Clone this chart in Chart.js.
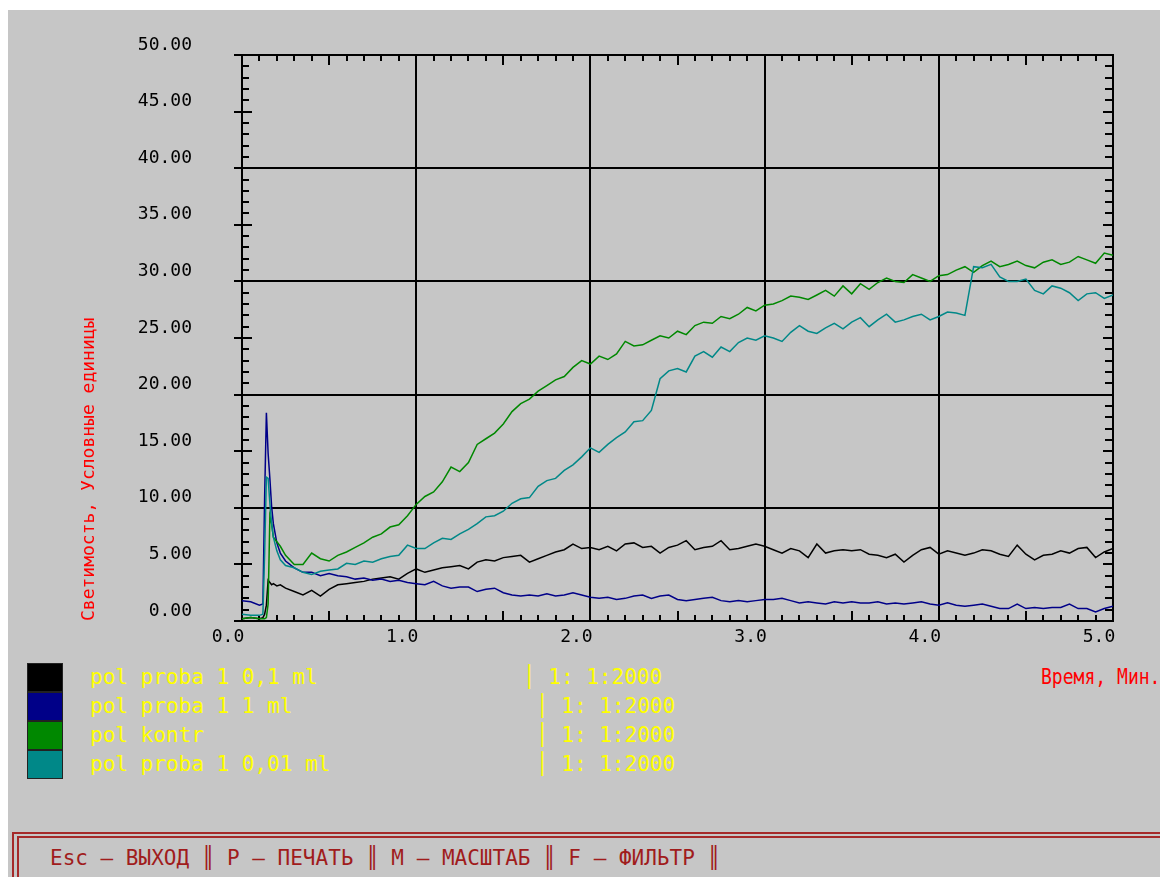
<!DOCTYPE html>
<html>
<head>
<meta charset="utf-8">
<script src="https://cdn.jsdelivr.net/npm/chart.js@4/dist/chart.umd.min.js"></script>
<style>
  body { margin: 0; background: #fff; width: 1160px; height: 877px; overflow: hidden; position: relative; font-family: "DejaVu Sans Mono", monospace; }
  #screen { position: absolute; left: 8px; top: 10px; width: 1152px; height: 867px; background: #c6c6c6; }
  #chart { position: absolute; left: 0; top: 0; }
  .row { position: absolute; left: 0; height: 29px; width: 700px; }
  .swatch { position: absolute; left: 27px; top: 0; width: 34px; height: 27px; border: 1px solid #222; }
  .name, .ratio { position: absolute; top: 0; line-height: 29px; font-size: 21px; color: #ffff00; white-space: pre; }
  .name { left: 90px; }
  #xtitle { position: absolute; left: 1041px; top: 664px; font-size: 22px; line-height: 26px; color: #ff0000; white-space: pre; transform: scaleX(0.82); transform-origin: left center; }
  #keysOuter { position: absolute; left: 12px; top: 832px; width: 1200px; height: 80px; border-top: 2px solid #a52a2a; border-left: 2px solid #a52a2a; }
  #keysInner { position: absolute; left: 17px; top: 836px; width: 1200px; height: 80px; border-top: 2px solid #a52a2a; border-left: 2px solid #a52a2a; }
  #keys { position: absolute; left: 50px; top: 845px; font-size: 21px; line-height: 26px; color: #a01c1c; white-space: pre; }
</style>
</head>
<body>
<div id="screen"></div>
<canvas id="chart" width="1160" height="660"></canvas>
<div id="legend"></div>
<div id="xtitle">Время, Мин.</div>
<div id="keysOuter"></div>
<div id="keysInner"></div>
<div id="keys">Esc – ВЫХОД ║ P – ПЕЧАТЬ ║ M – МАСШТАБ ║ F – ФИЛЬТР ║</div>
<script>
document.addEventListener("DOMContentLoaded", () => {
  const FONT = "'DejaVu Sans Mono', monospace";

  // time, minutes
  const times = [0, 0.05, 0.1, 0.12, 0.13, 0.14, 0.15, 0.16, 0.17, 0.18, 0.2, 0.22, 0.25,
    0.3, 0.35, 0.4, 0.45, 0.5, 0.55, 0.6, 0.65, 0.7, 0.75, 0.8, 0.85, 0.9, 0.95, 1.0,
    1.05, 1.1, 1.15, 1.2, 1.25, 1.3, 1.35, 1.4, 1.45, 1.5, 1.55, 1.6, 1.65, 1.7, 1.75, 1.8, 1.85, 1.9, 1.95, 2.0,
    2.05, 2.1, 2.15, 2.2, 2.25, 2.3, 2.35, 2.4, 2.45, 2.5, 2.55, 2.6, 2.65, 2.7, 2.75, 2.8, 2.85, 2.9, 2.95, 3.0,
    3.05, 3.1, 3.15, 3.2, 3.25, 3.3, 3.35, 3.4, 3.45, 3.5, 3.55, 3.6, 3.65, 3.7, 3.75, 3.8, 3.85, 3.9, 3.95, 4.0,
    4.05, 4.1, 4.15, 4.2, 4.25, 4.3, 4.35, 4.4, 4.45, 4.5, 4.55, 4.6, 4.65, 4.7, 4.75, 4.8, 4.85, 4.9, 4.95, 5.0];

  const proba01 = [0.2, 0.3, 0.2, 0.3, 0.6, 1.4, 3.6, 3.4, 3.2, 3.3, 3.1, 3.2, 2.9,
    2.6, 2.3, 2.7, 2.2, 2.8, 3.2, 3.3, 3.4, 3.5, 3.7, 3.8, 3.9, 3.7, 4.2, 4.6,
    4.3, 4.5, 4.7, 4.8, 4.9, 4.6, 5.2, 5.4, 5.3, 5.6, 5.7, 5.8, 5.2, 5.5, 5.8, 6.1, 6.3, 6.8, 6.4, 6.5,
    6.3, 6.6, 6.2, 6.8, 6.9, 6.5, 6.6, 6.0, 6.5, 6.7, 7.1, 6.3, 6.5, 6.6, 7.1, 6.3, 6.4, 6.6, 6.8, 6.6,
    6.3, 6.0, 6.4, 6.2, 5.6, 6.8, 6.0, 6.2, 6.3, 6.2, 6.3, 5.9, 5.8, 5.6, 5.9, 5.2, 5.8, 6.3, 6.5, 5.9,
    6.2, 6.0, 5.8, 6.0, 6.3, 6.2, 5.9, 5.7, 6.7, 5.9, 5.4, 5.8, 5.9, 6.2, 6.0, 6.4, 6.5, 5.6, 6.1, 6.4];

  const proba1 = [1.8, 1.7, 1.4, 1.5, 11.0, 18.4, 14.8, 12.6, 10.1, 8.6, 6.9, 6.0, 5.3,
    4.7, 4.3, 4.3, 4.0, 4.2, 4.0, 3.9, 3.7, 3.8, 3.6, 3.7, 3.5, 3.6, 3.4, 3.3,
    3.2, 3.5, 3.1, 2.9, 3.0, 3.0, 2.6, 2.8, 2.9, 2.5, 2.3, 2.2, 2.3, 2.2, 2.4, 2.2, 2.3, 2.5, 2.3, 2.1,
    2.0, 2.1, 1.9, 2.0, 2.2, 2.3, 2.0, 2.2, 2.3, 1.9, 1.8, 1.9, 2.0, 2.1, 1.8, 1.7, 1.8, 1.7, 1.8, 1.9,
    1.9, 2.0, 1.8, 1.6, 1.7, 1.6, 1.5, 1.7, 1.6, 1.7, 1.6, 1.6, 1.7, 1.5, 1.6, 1.5, 1.6, 1.7, 1.5, 1.4,
    1.6, 1.4, 1.3, 1.4, 1.5, 1.3, 1.1, 1.1, 1.5, 1.1, 1.2, 1.1, 1.2, 1.2, 1.5, 1.1, 1.1, 0.8, 1.1, 1.3];

  const kontr = [0.2, 0.3, 0.2, 0.2, 0.2, 0.3, 1.5, 9.3, 8.6, 7.4, 7.0, 6.6, 5.8,
    5.0, 5.0, 6.0, 5.5, 5.3, 5.8, 6.1, 6.5, 6.9, 7.4, 7.7, 8.3, 8.5, 9.3, 10.3,
    11.0, 11.4, 12.3, 13.6, 13.2, 14.0, 15.6, 16.1, 16.6, 17.4, 18.5, 19.2, 19.6, 20.3, 20.8, 21.3, 21.6, 22.4, 23.0, 22.7,
    23.4, 23.1, 23.6, 24.7, 24.3, 24.4, 24.8, 25.2, 25.0, 25.6, 25.3, 26.1, 26.4, 26.3, 26.9, 26.7, 27.1, 27.7, 27.4, 27.9,
    28.0, 28.3, 28.7, 28.6, 28.4, 28.8, 29.2, 28.7, 29.6, 28.9, 29.8, 29.3, 29.9, 30.3, 30.0, 29.9, 30.6, 30.3, 30.0, 30.5,
    30.6, 31.0, 31.3, 30.8, 31.4, 31.8, 31.3, 31.5, 31.8, 31.4, 31.2, 31.7, 31.9, 31.5, 31.7, 32.2, 31.9, 31.6, 32.5, 32.3];

  const proba001 = [0.6, 0.5, 0.5, 0.6, 6.0, 12.7, 12.6, 10.4, 8.6, 7.4, 6.2, 5.4, 4.9,
    4.7, 4.3, 4.1, 4.4, 4.5, 4.6, 5.1, 5.0, 5.3, 5.2, 5.5, 5.7, 5.8, 6.7, 6.4,
    6.4, 6.9, 7.3, 7.2, 7.7, 8.1, 8.6, 9.2, 9.3, 9.7, 10.4, 10.8, 10.9, 11.9, 12.4, 12.6, 13.3, 13.8, 14.5, 15.3,
    14.9, 15.6, 16.2, 16.7, 17.6, 17.7, 18.6, 21.4, 22.1, 22.3, 22.0, 23.4, 23.8, 23.3, 24.2, 23.8, 24.6, 25.0, 24.8, 25.2,
    25.0, 24.7, 25.5, 26.1, 25.6, 25.4, 25.9, 26.3, 25.8, 26.4, 26.8, 26.0, 26.6, 27.1, 26.4, 26.6, 26.9, 27.1, 26.6, 26.9,
    27.3, 27.2, 27.0, 31.3, 31.2, 31.5, 30.4, 30.0, 30.0, 30.2, 29.2, 28.9, 29.6, 29.4, 29.0, 28.3, 28.9, 29.0, 28.5, 28.8];

  const seriesNames = ["pol proba 1 0,1 ml", "pol proba 1 1 ml", "pol kontr", "pol proba 1 0,01 ml"];
  const seriesRatios = ["│ 1: 1:2000", "│ 1: 1:2000", "│ 1: 1:2000", "│ 1: 1:2000"];
  const seriesColors = ["#000000", "#000088", "#008800", "#008888"];
  const seriesValues = [proba01, proba1, kontr, proba001];

  // legend block under the plot
  const legend = document.getElementById("legend");
  seriesNames.forEach((name, i) => {
    const row = document.createElement("div");
    row.className = "row";
    row.style.top = (663 + i * 29) + "px";
    row.innerHTML = `<div class="swatch" style="background:${seriesColors[i]}"></div>` +
      `<div class="name">${name}</div>` +
      `<div class="ratio" style="left:${i === 0 ? 523 : 536}px">${seriesRatios[i]}</div>`;
    legend.appendChild(row);
  });

  // inner tick marks and frame, like the old DOS plot
  const frameTicks = {
    id: "frameTicks",
    beforeDatasetsDraw(chart) {
      const { ctx, chartArea: a, scales: { x, y } } = chart;
      ctx.save();
      ctx.strokeStyle = "#000";
      ctx.lineWidth = 2;
      ctx.strokeRect(a.left, a.top, a.right - a.left, a.bottom - a.top);
      ctx.beginPath();
      for (let i = 0; i <= 50; i++) {
        const px = Math.round(x.getPixelForValue(i / 10));
        const len = i % 5 === 0 ? 10 : 6;
        ctx.moveTo(px, a.top); ctx.lineTo(px, a.top + len);
        ctx.moveTo(px, a.bottom); ctx.lineTo(px, a.bottom - len);
      }
      for (let i = 0; i <= 50; i++) {
        const py = Math.round(y.getPixelForValue(i));
        const major = i % 5 === 0;
        ctx.moveTo(a.left - (major ? 8 : 0), py); ctx.lineTo(a.left + (major ? 10 : 7), py);
        ctx.moveTo(a.right, py); ctx.lineTo(a.right - (major ? 10 : 8), py);
      }
      ctx.stroke();
      ctx.restore();
    }
  };

  new Chart(document.getElementById("chart"), {
    type: "line",
    data: {
      datasets: seriesNames.map((name, i) => ({
        label: name,
        data: times.map((t, j) => ({ x: t, y: seriesValues[i][j] })),
        borderColor: seriesColors[i],
        borderWidth: 1.5,
        pointRadius: 0,
        tension: 0,
        order: 4 - i
      }))
    },
    options: {
      responsive: false,
      animation: false,
      layout: { padding: { top: 55, right: 47, bottom: 0, left: 0 } },
      plugins: { legend: { display: false }, tooltip: { enabled: false } },
      scales: {
        x: {
          type: "linear",
          min: 0,
          max: 5,
          afterFit: s => { s.height = 39; s.paddingLeft = 0; s.paddingRight = 0; },
          ticks: {
            stepSize: 1,
            callback: v => v.toFixed(1),
            color: "#000",
            font: { family: FONT, size: 18 },
            padding: 6,
            labelOffset: -14,
            maxRotation: 0
          },
          grid: { color: "#000", lineWidth: 2, drawTicks: false },
          border: { color: "#000", width: 2 }
        },
        y: {
          min: 0,
          max: 50,
          afterFit: s => { s.width = 242; s.paddingTop = 0; s.paddingBottom = 0; },
          ticks: {
            stepSize: 5,
            callback: v => v.toFixed(2),
            color: "#000",
            font: { family: FONT, size: 18 },
            padding: 50,
            labelOffset: -10
          },
          grid: {
            color: c => (c.tick && c.tick.value % 10 === 0) ? "#000" : "rgba(0,0,0,0)",
            lineWidth: 2,
            drawTicks: false
          },
          border: { color: "#000", width: 2 },
          title: {
            display: true,
            text: "Светимость, Условные единицы",
            color: "#ff0000",
            align: "start",
            font: { family: FONT, size: 18 },
            padding: { top: 79, bottom: 0 }
          }
        }
      }
    },
    plugins: [frameTicks]
  });
});
</script>
</body>
</html>
